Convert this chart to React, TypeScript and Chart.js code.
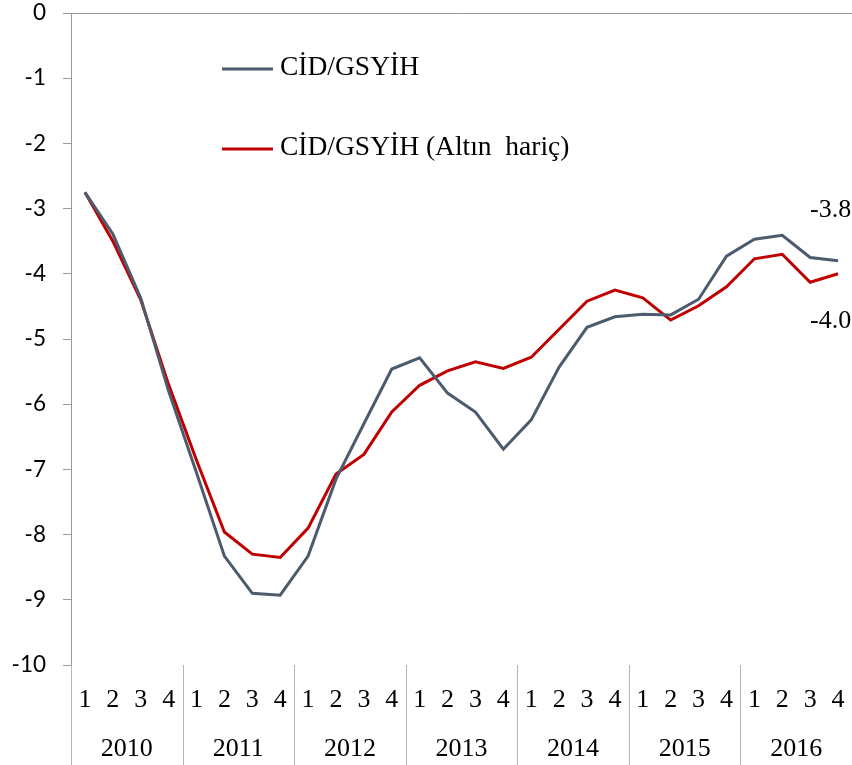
import React, { useEffect, useRef } from "react";
import { Chart, registerables } from "chart.js";

Chart.register(...registerables);

const years = ["2010", "2011", "2012", "2013", "2014", "2015", "2016"];
const quarters = ["1", "2", "3", "4"];
const categories = years.flatMap((y) => quarters.map((q) => `${y}-${q}`));

const cidGsyih = [
  -2.75, -3.39, -4.37, -5.8,
  -7.05, -8.33, -8.9, -8.93,
  -8.33, -7.15, -6.3, -5.46,
  -5.29, -5.83, -6.12, -6.69,
  -6.24, -5.43, -4.82, -4.66,
  -4.62, -4.63, -4.39, -3.73,
  -3.47, -3.41, -3.75, -3.8,
];

const cidGsyihExGold = [
  -2.75, -3.5, -4.4, -5.7,
  -6.86, -7.96, -8.3, -8.35,
  -7.9, -7.07, -6.77, -6.12,
  -5.71, -5.49, -5.35, -5.45,
  -5.28, -4.85, -4.42, -4.25,
  -4.37, -4.71, -4.49, -4.2,
  -3.77, -3.7, -4.13, -4.0,
];

const seriesLabels = ["CİD/GSYİH", "CİD/GSYİH (Altın  hariç)"];
const seriesColors = ["#4D5B6E", "#C00000"];
const endLabels = ["-3.8", "-4.0"];
const yTicks = [0, -1, -2, -3, -4, -5, -6, -7, -8, -9, -10];

const SERIF = '"Liberation Serif", serif';

const overlayPlugin = {
  id: "overlay",
  afterDraw(chart: any) {
    const { ctx, chartArea } = chart;
    const xs = chart.scales.x;
    const half = (xs.getPixelForValue(1) - xs.getPixelForValue(0)) / 2;
    ctx.save();
    // top axis line (category axis crosses at 0)
    ctx.strokeStyle = "#9a9a9a";
    ctx.lineWidth = 1;
    ctx.beginPath();
    ctx.moveTo(chartArea.left, Math.round(chartArea.top) + 0.5);
    ctx.lineTo(chartArea.right, Math.round(chartArea.top) + 0.5);
    ctx.stroke();

    // multi-level category labels
    ctx.fillStyle = "#000";
    ctx.font = `26px ${SERIF}`;
    ctx.textAlign = "center";
    ctx.textBaseline = "alphabetic";
    categories.forEach((c, i) => {
      const q = c.split("-")[1];
      ctx.fillText(q, xs.getPixelForValue(i), chartArea.bottom + 42);
    });
    ctx.strokeStyle = "#b5b5b5";
    years.forEach((y, g) => {
      const x0 = xs.getPixelForValue(g * 4) - half;
      const x1 = xs.getPixelForValue(g * 4 + 3) + half;
      ctx.fillText(y, (x0 + x1) / 2, chartArea.bottom + 91);
      ctx.beginPath();
      ctx.moveTo(Math.round(x0) + 0.5, chartArea.bottom);
      ctx.lineTo(Math.round(x0) + 0.5, chart.height);
      ctx.stroke();
    });

    // legend inside plot
    chart.data.datasets.forEach((ds: any, i: number) => {
      const ly = chartArea.top + 56 + i * 80;
      ctx.strokeStyle = ds.borderColor;
      ctx.lineWidth = 3;
      ctx.beginPath();
      ctx.moveTo(chartArea.left + 151, ly);
      ctx.lineTo(chartArea.left + 202, ly);
      ctx.stroke();
      ctx.fillStyle = "#000";
      ctx.font = `27.5px ${SERIF}`;
      ctx.textAlign = "left";
      ctx.textBaseline = "middle";
      ctx.fillText(ds.label, chartArea.left + 209, ly - 1);
    });

    // end-of-series value labels
    ctx.font = `26px ${SERIF}`;
    ctx.textAlign = "left";
    ctx.textBaseline = "alphabetic";
    const offsets = [-44, 54];
    chart.data.datasets.forEach((ds: any, i: number) => {
      const meta = chart.getDatasetMeta(i);
      const pt = meta.data[meta.data.length - 1];
      ctx.fillStyle = "#000";
      ctx.fillText(endLabels[i], pt.x - 28, pt.y + offsets[i]);
    });
    ctx.restore();
  },
};

export default function App() {
  const ref = useRef<HTMLCanvasElement>(null);
  useEffect(() => {
    document.body.style.margin = "0";
    const chart = new Chart(ref.current!, {
      type: "line",
      data: {
        labels: categories,
        datasets: [
          {
            label: seriesLabels[0],
            data: cidGsyih,
            borderColor: seriesColors[0],
            borderWidth: 3,
            pointRadius: 0,
            tension: 0,
          },
          {
            label: seriesLabels[1],
            data: cidGsyihExGold,
            borderColor: seriesColors[1],
            borderWidth: 3,
            pointRadius: 0,
            tension: 0,
          },
        ],
      },
      options: {
        responsive: false,
        devicePixelRatio: 1,
        animation: false,
        layout: { padding: { top: 13, bottom: 100, left: 0, right: 0 } },
        plugins: { legend: { display: false }, tooltip: { enabled: false } },
        scales: {
          x: { type: "category", display: false, offset: true },
          y: {
            min: -10,
            max: 0,
            afterFit: (s: any) => {
              s.width = 71;
              s.paddingTop = 0;
              s.paddingBottom = 0;
            },
            afterBuildTicks: (s: any) => {
              s.ticks = yTicks.map((v) => ({ value: v }));
            },
            ticks: {
              font: { family: "Lato", size: 22.5 },
              color: "#000",
              padding: 17,
            },
            grid: {
              drawOnChartArea: false,
              drawTicks: true,
              tickLength: 8,
              color: "#9a9a9a",
            },
            border: { display: true, color: "#9a9a9a" },
          },
        },
      },
      plugins: [overlayPlugin],
    });
    return () => chart.destroy();
  }, []);
  return (
    <div style={{ width: 852, height: 765 }}>
      <canvas ref={ref} width={852} height={765} style={{ display: "block" }} />
    </div>
  );
}
